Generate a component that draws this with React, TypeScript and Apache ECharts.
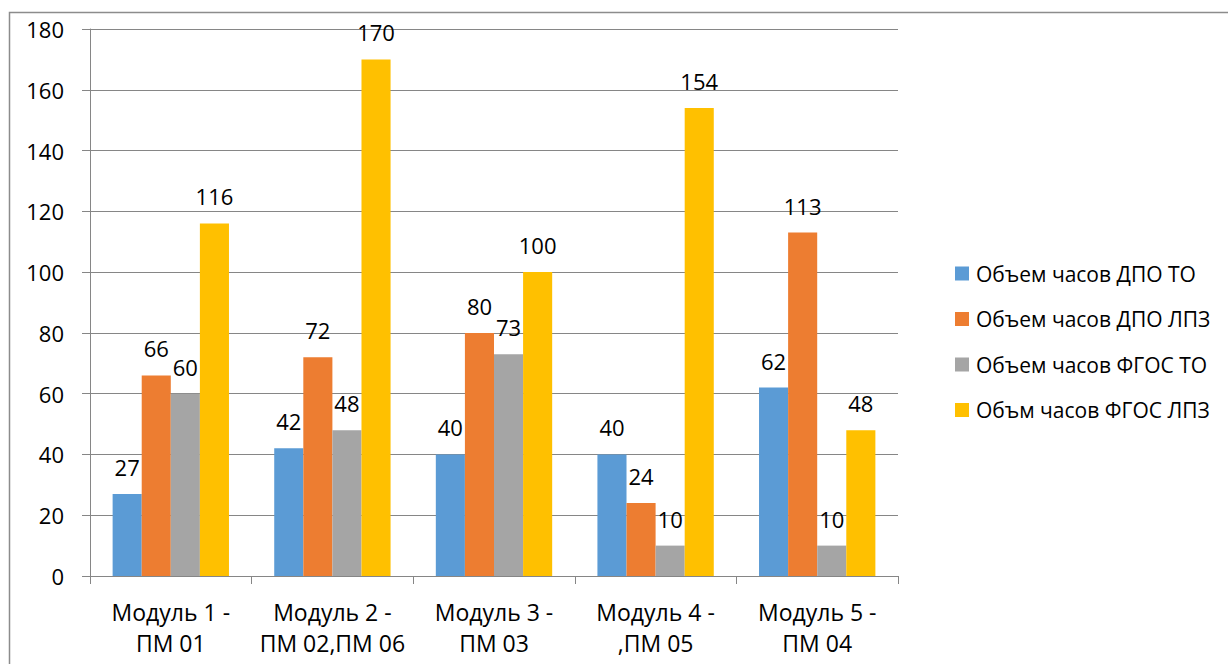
import React, { useEffect, useRef } from "react";
import * as echarts from "echarts";

const categories = ["Модуль 1 -\nПМ 01", "Модуль 2 -\nПМ 02,ПМ 06", "Модуль 3 -\nПМ 03", "Модуль 4 -\n,ПМ 05", "Модуль 5 -\nПМ 04"];
const seriesNames = ["Объем часов ДПО ТО", "Объем часов ДПО ЛПЗ", "Объем часов ФГОС ТО", "Объм часов ФГОС ЛПЗ"];
const dpoTo = [27, 42, 40, 40, 62];
const dpoLpz = [66, 72, 80, 24, 113];
const fgosTo = [60, 48, 73, 10, 10];
const fgosLpz = [116, 170, 100, 154, 48];
const colors = ["#5B9BD5", "#ED7D31", "#A5A5A5", "#FFC000"];

const FONT = "'Open Sans', 'Noto Sans', sans-serif";

export default function App() {
  const ref = useRef<HTMLDivElement>(null);
  useEffect(() => {
    if (!ref.current) return;
    const chart = echarts.init(ref.current, undefined, { renderer: "svg" });
    const data = [dpoTo, dpoLpz, fgosTo, fgosLpz];
    chart.setOption({
      animation: false,
      backgroundColor: "#ffffff",
      textStyle: { fontFamily: FONT },
      graphic: [
        {
          type: "rect",
          shape: { x: 9.5, y: 12.5, width: 1240, height: 680 },
          style: { fill: "none", stroke: "#8c8c8c", lineWidth: 1.5 },
          silent: true,
        },
      ],
      grid: { left: 90, right: 330, top: 29, bottom: 88, containLabel: false },
      legend: {
        orient: "vertical",
        left: 955,
        top: 263,
        padding: 0,
        itemWidth: 14,
        itemHeight: 14,
        itemGap: 24.5,
        icon: "rect",
        textStyle: { fontFamily: FONT, fontSize: 21, lineHeight: 20, color: "#000", padding: [0, 0, 0, 2] },
        data: seriesNames,
      },
      xAxis: {
        type: "category",
        data: categories,
        axisLine: { show: true, lineStyle: { color: "#868686", width: 1 } },
        axisTick: { show: true, length: 8, lineStyle: { color: "#868686" } },
        axisLabel: {
          fontFamily: FONT,
          fontSize: 23,
          color: "#000",
          lineHeight: 31,
          margin: 20,
          interval: 0,
        },
      },
      yAxis: {
        type: "value",
        min: 0,
        max: 180,
        interval: 20,
        axisLine: { show: true, lineStyle: { color: "#868686", width: 1 } },
        axisTick: { show: true, length: 8, lineStyle: { color: "#868686" } },
        splitLine: { show: true, lineStyle: { color: "#868686", width: 1 } },
        axisLabel: { fontFamily: FONT, fontSize: 22, color: "#000", margin: 26 },
      },
      series: seriesNames.map((name, i) => ({
        name,
        type: "bar",
        data: data[i],
        barGap: "0%",
        barCategoryGap: "28%",
        itemStyle: { color: colors[i] },
        label: {
          show: true,
          position: "top",
          distance: 16,
          fontFamily: FONT,
          fontSize: 22,
          color: "#000",
        },
      })),
    });
    return () => chart.dispose();
  }, []);
  return (
    <div
      ref={ref}
      style={{ position: "fixed", left: 0, top: 0, width: 1228, height: 664 }}
    />
  );
}
